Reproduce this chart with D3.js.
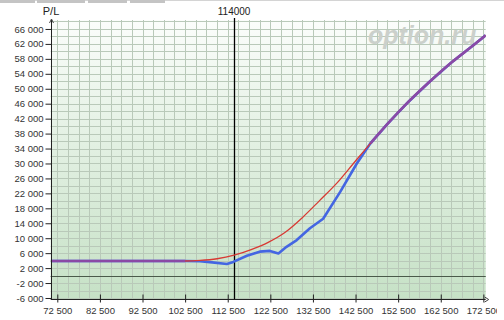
<!DOCTYPE html>
<html>
<head>
<meta charset="utf-8">
<script src="https://cdn.jsdelivr.net/npm/d3@7"></script>
<style>
  body { margin: 0; background: #fff; }
  svg { display: block; font-family: "Liberation Sans", Arial, sans-serif; }
</style>
</head>
<body>
<div id="chart"></div>
<script>
// tick values
const xTicks = [72500, 82500, 92500, 102500, 112500, 122500, 132500, 142500, 152500, 162500, 172500];
const yTicks = [66000, 62000, 58000, 54000, 50000, 46000, 42000, 38000, 34000, 30000, 26000, 22000, 18000, 14000, 10000, 6000, 2000, -2000, -6000];
const spotPrice = 114000;

// red curve (current P/L)
const redX = [70950, 100000, 102500, 106000, 110000, 114000, 118000, 122000, 126000, 130000, 134000, 138000, 142000, 146000, 150000, 155000, 160000, 165000, 170000, 173050];
const redY = [3900, 3900, 3900, 4050, 4500, 5450, 6950, 8900, 11600, 15500, 20000, 24600, 30000, 35400, 40600, 46600, 52000, 57000, 61500, 64300];

// blue curve
const blueX = [70950, 100000, 102500, 106000, 108300, 112300, 113800, 117000, 120000, 122400, 124400, 126300, 128700, 131800, 134900, 138900, 142800, 146000, 150000, 155000, 160000, 165000, 170000, 173050];
const blueY = [3900, 3900, 3900, 3850, 3600, 3100, 3650, 5300, 6400, 6600, 5900, 7700, 9500, 12650, 15200, 22400, 30000, 35400, 40600, 46600, 52000, 57000, 61500, 64300];

const w = 504, h = 320;
const pL = 50.7, pR = 485.7, pT = 20, pB = 299;

const svg = d3.select("#chart").append("svg")
  .attr("width", w)
  .attr("height", h);

const defs = svg.append("defs");
const grad = defs.append("linearGradient")
  .attr("id", "bg")
  .attr("x1", 0).attr("y1", 0).attr("x2", 0).attr("y2", 1);
grad.append("stop").attr("offset", "0%").attr("stop-color", "#fbfdfb");
grad.append("stop").attr("offset", "45%").attr("stop-color", "#e2f0e2");
grad.append("stop").attr("offset", "100%").attr("stop-color", "#c6e1c6");

defs.append("clipPath").attr("id", "plot")
  .append("rect")
  .attr("x", pL).attr("y", pT)
  .attr("width", pR - pL).attr("height", pB - pT);

defs.append("clipPath").attr("id", "page")
  .append("rect")
  .attr("x", 0).attr("y", -400)
  .attr("width", 497).attr("height", 800);

// tab strip on top
svg.append("rect").attr("x", 0).attr("y", 0).attr("width", w).attr("height", 1).attr("fill", "#d4d4d4");
[[0, 35], [37, 85], [88, 127], [130, 165]].forEach(t => {
  svg.append("rect")
    .attr("x", t[0]).attr("y", 0)
    .attr("width", t[1] - t[0]).attr("height", 3)
    .attr("fill", "#c4c4c4");
});

const xSc = d3.scaleLinear().domain([70950, 173050]).range([pL, pR]);
const ySc = d3.scaleLinear().domain([-6270, 68400]).range([pB, pT]);

svg.append("rect")
  .attr("x", pL).attr("y", pT)
  .attr("width", pR - pL).attr("height", pB - pT)
  .attr("fill", "url(#bg)");

// grid
const gx = d3.range(72500, 173000, 2500);
const gy = d3.range(-6000, 68001, 2000);

svg.append("g").selectAll("line")
  .data(gx)
  .join("line")
    .attr("x1", d => Math.round(xSc(d)) + 0.5)
    .attr("x2", d => Math.round(xSc(d)) + 0.5)
    .attr("y1", pT).attr("y2", pB)
    .attr("stroke", "#b9c9b9")
    .attr("stroke-width", 1);

svg.append("g").selectAll("line")
  .data(gy)
  .join("line")
    .attr("x1", pL).attr("x2", pR)
    .attr("y1", d => Math.round(ySc(d)) + 0.5)
    .attr("y2", d => Math.round(ySc(d)) + 0.5)
    .attr("stroke", "#b9c9b9")
    .attr("stroke-width", 1);

// watermark
svg.append("text")
  .attr("x", 368)
  .attr("y", 44)
  .attr("font-size", 25)
  .attr("font-weight", "bold")
  .attr("font-style", "italic")
  .attr("fill", "#cbd0cb")
  .text("option.ru");

// zero line
svg.append("line")
  .attr("x1", pL).attr("x2", pR)
  .attr("y1", Math.round(ySc(0)) + 0.5).attr("y2", Math.round(ySc(0)) + 0.5)
  .attr("stroke", "#4a5a4a");

// spot line
svg.append("line")
  .attr("x1", Math.round(xSc(spotPrice)) + 0.5).attr("x2", Math.round(xSc(spotPrice)) + 0.5)
  .attr("y1", 18).attr("y2", pB)
  .attr("stroke", "#000")
  .attr("stroke-width", 1.3);

svg.append("text")
  .attr("x", xSc(spotPrice))
  .attr("y", 15)
  .attr("text-anchor", "middle")
  .attr("font-size", 10)
  .attr("fill", "#222")
  .text(spotPrice);

// curves
const redData = redX.map((x, i) => ({ x, y: redY[i] }));
const blueData = blueX.map((x, i) => ({ x, y: blueY[i] }));

// where both curves share the same point they are drawn as one purple line
const shared = redData.filter(d => blueData.some(b => b.x === d.x && b.y === d.y));
const sharedLow = shared.filter(d => d.x < spotPrice);
const sharedHigh = shared.filter(d => d.x > spotPrice);

const redLine = d3.line().x(d => xSc(d.x)).y(d => ySc(d.y)).curve(d3.curveMonotoneX);
const blueLine = d3.line().x(d => xSc(d.x)).y(d => ySc(d.y));

const lines = svg.append("g").attr("clip-path", "url(#plot)");

lines.append("path")
  .datum(blueData)
  .attr("fill", "none")
  .attr("stroke", "#4466e2")
  .attr("stroke-width", 2.6)
  .attr("stroke-linejoin", "round")
  .attr("d", blueLine);

lines.append("path")
  .datum(redData)
  .attr("fill", "none")
  .attr("stroke", "#d83a34")
  .attr("stroke-width", 1.3)
  .attr("d", redLine);

lines.selectAll(".both")
  .data([sharedLow, sharedHigh])
  .join("path")
    .attr("class", "both")
    .attr("fill", "none")
    .attr("stroke", "#8a4aa6")
    .attr("stroke-width", 2.6)
    .attr("d", d => d.length > 3 ? redLine(d) : blueLine(d));

// axes
const fmt = d3.formatLocale({ decimal: ".", thousands: " ", grouping: [3], currency: ["", ""], minus: "-" }).format(",");

const yAxis = svg.append("g")
  .attr("transform", `translate(${Math.round(pL) + 0.5},0)`)
  .call(d3.axisLeft(ySc).tickValues(yTicks).tickFormat(fmt).tickSize(6).tickPadding(2).tickSizeOuter(0));
yAxis.select(".domain").attr("stroke", "#222").attr("d", `M0,${pT}V${pB}`);
yAxis.selectAll(".tick line").attr("stroke", "#222");
yAxis.selectAll(".tick text").attr("font-size", 9.5).attr("fill", "#333").attr("font-family", "Liberation Sans, Arial, sans-serif");

const xAxis = svg.append("g")
  .attr("transform", `translate(0,${pB + 0.5})`)
  .attr("clip-path", "url(#page)")
  .call(d3.axisBottom(xSc).tickValues(xTicks).tickFormat(fmt).tickSize(3).tickPadding(5).tickSizeOuter(0));
xAxis.select(".domain").attr("stroke", "#222").attr("d", `M${pL},0H${pR}`);
xAxis.selectAll(".tick line").attr("stroke", "#222").attr("y1", -5);
xAxis.selectAll(".tick text").attr("font-size", 9.5).attr("fill", "#333").attr("font-family", "Liberation Sans, Arial, sans-serif");

// axis arrows
svg.append("path")
  .attr("d", `M${Math.round(pL) - 1.5},${pT + 3}L${Math.round(pL) + 0.5},${pT - 1}L${Math.round(pL) + 2.5},${pT + 3}`)
  .attr("fill", "none").attr("stroke", "#444");
svg.append("path")
  .attr("d", `M${pR - 1},${pB - 2}L${pR + 3},${pB + 0.5}L${pR - 1},${pB + 3}`)
  .attr("fill", "none").attr("stroke", "#444");

svg.append("text")
  .attr("x", 51)
  .attr("y", 15)
  .attr("text-anchor", "middle")
  .attr("font-size", 11)
  .attr("fill", "#222")
  .text("P/L");
</script>
</body>
</html>
